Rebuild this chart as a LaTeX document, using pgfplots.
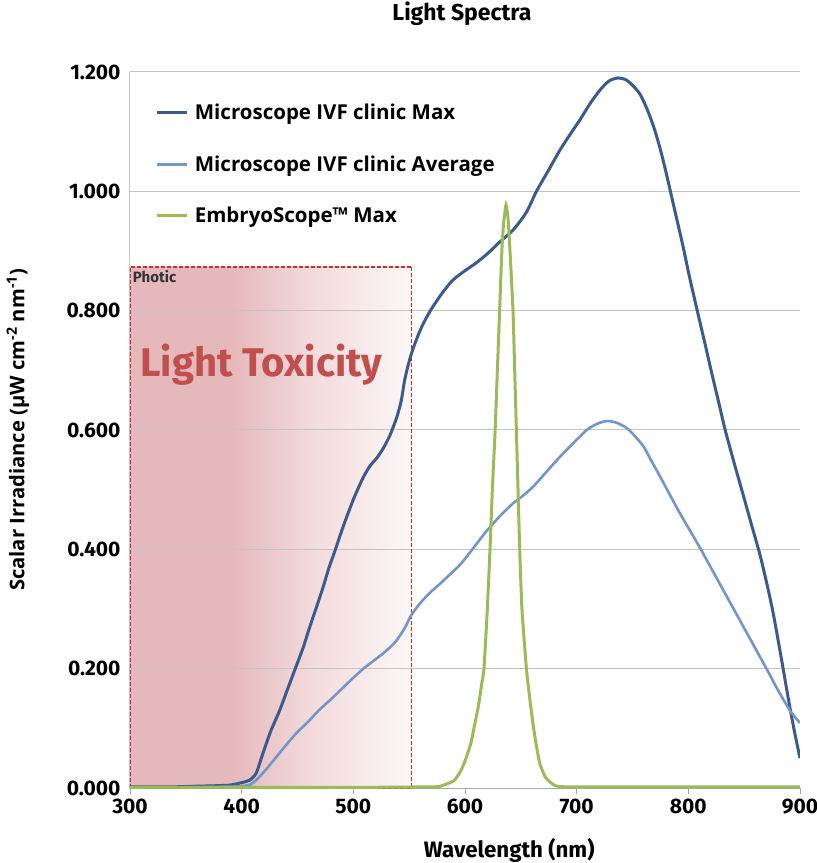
\documentclass[border=0pt]{standalone}
\usepackage{fontspec}
\setmainfont{Open Sans}
\newfontfamily\fira{Fira Sans}
\usepackage{pgfplots}
\pgfplotsset{compat=1.18}
\definecolor{navy}{HTML}{3A5B8C}
\definecolor{lblue}{HTML}{7495C7}
\definecolor{lgreen}{HTML}{9BBB59}
\definecolor{gridc}{HTML}{C4C4C4}
\definecolor{toxA}{HTML}{E5B8BB}
\definecolor{toxB}{HTML}{F3DCDD}
\definecolor{toxC}{HTML}{FDF7F7}
\definecolor{toxred}{HTML}{C0504D}
\definecolor{boxred}{HTML}{D42A2A}
\pgfdeclarehorizontalshading{tox}{100bp}{color(0bp)=(toxA); color(25bp)=(toxA); color(43bp)=(toxA); color(58bp)=(toxB); color(75bp)=(toxC); color(100bp)=(toxC)}
\begin{document}
\begin{tikzpicture}
\begin{axis}[
  set layers,
  at={(0,0)}, anchor=south west,
  scale only axis, width=670pt, height=716pt,
  xmin=300, xmax=900, ymin=0, ymax=1.2,
  xtick={300,400,...,900},
  ytick={0,0.2,0.4,0.6,0.8,1.0,1.2},
  axis lines*=left,
  axis line style={draw=gridc, line width=1pt},
  x axis line style={draw=gray!70},
  tick align=outside,
  xtick pos=bottom,
  ytick style={draw=none},
  xtick style={draw=gray!70, line width=0.8pt},
  major tick length=6pt,
  ymajorgrids,
  grid style={draw=gridc, line width=1pt},
  /pgf/number format/assume math mode=true,
  yticklabel style={/pgf/number format/fixed, /pgf/number format/fixed zerofill, /pgf/number format/precision=3},
  ticklabel style={font=\fira\bfseries\fontsize{21}{24}\selectfont},
  xticklabel style={yshift=-1pt},
  scaled y ticks=false,
  title={Light Spectra},
  title style={font=\fira\bfseries\fontsize{23}{26}\selectfont, at={(axis description cs:0.4955,1.0726)}, anchor=center},
  xlabel={Wavelength (nm)},
  xlabel style={font=\fira\bfseries\fontsize{22.3}{26}\selectfont, at={(axis description cs:0.566,-0.0866)}, anchor=center},
  ylabel={Scalar Irradiance (μW cm\textsuperscript{-2} nm\textsuperscript{-1})},
  ylabel style={font=\bfseries\fontsize{20.2}{24}\selectfont, at={(axis description cs:-0.1672,0.5)}, anchor=center},
  legend style={at={(axis cs:323,1.150)}, anchor=north west, draw=none, fill=none, inner sep=0pt,
    row sep=30.5pt, font=\bfseries\fontsize{20.5}{24}\selectfont, nodes={inner xsep=6pt}},
  legend cell align=left,
  legend image code/.code={\draw[#1, line width=3pt] (0pt,0pt) -- (30pt,0pt);},
]
\begin{pgfonlayer}{axis background}
\shade[shading=tox] (axis cs:300,0) rectangle (axis cs:552,0.873);
\end{pgfonlayer}
\draw[draw=boxred, line width=1.5pt, dash pattern=on 4pt off 2pt] (axis cs:300,0) -- (axis cs:300,0.873) -- (axis cs:552,0.873);
\draw[draw=boxred, line width=1.5pt, dash pattern=on 4pt off 2pt] (axis cs:552,0.873) -- (axis cs:552,0) -- (axis cs:300,0);
\node[anchor=base west, font=\fira\bfseries\fontsize{15}{18}\selectfont, text=black!80, inner sep=0pt] at (axis cs:302.5,0.848) {Photic};
\node[anchor=base west, font=\fira\bfseries\fontsize{40}{44}\selectfont, text=toxred, inner sep=0pt] at (axis cs:309,0.690) {Light Toxicity};

\addplot[navy, line width=3pt, smooth, tension=0.45] coordinates {
(300,0.002)(320,0.002)(340,0.002)(360,0.003)(380,0.004)(390,0.005)(400,0.009)(407,0.013)(413,0.025)(419,0.058)
(426,0.095)(434,0.13)(441,0.165)(448,0.2)(455,0.235)(461,0.27)(467,0.303)(473,0.337)(478,0.368)(484,0.40)
(489,0.428)(494,0.454)(501,0.488)(509,0.521)(515,0.540)(521,0.553)(527,0.570)(533,0.592)(539,0.622)(543,0.650)
(546,0.684)(550,0.715)(554,0.739)(561,0.772)(569,0.80)(579,0.828)(589,0.851)(600,0.867)(610,0.88)(621,0.897)
(631,0.915)(643,0.935)(655,0.965)(664,1.0)(675,1.036)(685,1.069)(694,1.095)(703,1.12)(712,1.147)(721,1.17)
(729,1.185)(737,1.19)(744,1.187)(750,1.178)(757,1.162)(763,1.138)(769,1.108)(775,1.070)(781,1.024)(787,0.975)
(795,0.910)(801,0.857)(808,0.80)(815,0.744)(821,0.695)(827,0.648)(833,0.600)(841,0.545)(849,0.492)(856,0.445)
(864,0.392)(870,0.345)(876,0.293)(883.5,0.215)(890,0.145)(895,0.095)(900,0.05)};
\addlegendentry{Microscope IVF clinic Max}

\addplot[lblue, line width=2.6pt, smooth, tension=0.45] coordinates {
(300,0.001)(340,0.001)(380,0.002)(400,0.003)(408,0.006)(414,0.015)(419,0.025)(428,0.045)(438,0.068)(449,0.092)
(459,0.11)(469,0.13)(479,0.147)(489,0.165)(499,0.183)(509,0.20)(518,0.213)(527,0.226)(533,0.236)(539,0.248)
(546,0.268)(552,0.29)(560,0.31)(569,0.328)(578,0.343)(586,0.357)(596,0.375)(607,0.401)(619,0.430)(631,0.455)
(643,0.477)(652,0.49)(661,0.505)(673,0.53)(685,0.555)(697,0.578)(709,0.60)(718,0.61)(727,0.615)(736,0.612)
(745,0.603)(752,0.59)(760,0.572)(767,0.548)(775,0.521)(792,0.462)(810,0.404)(830,0.336)(850,0.268)(870,0.2)
(880,0.165)(891,0.13)(900,0.109)};
\addlegendentry{Microscope IVF clinic Average}

\addplot[lgreen, line width=3pt, smooth, tension=0.3] coordinates {
(300,0.001)(400,0.001)(500,0.001)(570,0.002)(578,0.003)(590,0.012)(596,0.028)(600,0.045)(605,0.073)(608,0.10)
(612,0.137)(615,0.175)(617,0.2)(620,0.30)(622.4,0.4)(624.5,0.5)(627,0.6)(629,0.70)(631,0.8)(633,0.90)
(634.5,0.945)(636.7,0.977)(638.5,0.955)(640,0.91)(643,0.8)(644.5,0.70)(646,0.6)(647.5,0.5)(649,0.4)(651,0.30)
(655,0.2)(658,0.15)(661,0.106)(664,0.07)(667,0.041)(672,0.018)(679,0.006)(690,0.002)(800,0.002)(900,0.002)};
\addlegendentry{EmbryoScope™ Max}
\end{axis}
\pgfresetboundingbox
\path[use as bounding box] (-130pt,-75pt) rectangle (687pt,788pt);
\end{tikzpicture}
\end{document}
